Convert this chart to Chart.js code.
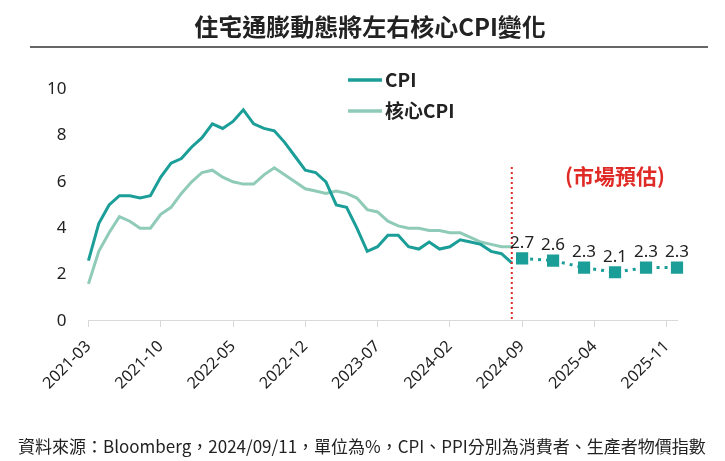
<!DOCTYPE html>
<html>
<head>
<meta charset="utf-8">
<script src="https://cdn.jsdelivr.net/npm/chart.js@4"></script>
<style>
  html, body { margin: 0; padding: 0; background: #fff; }
  #wrap { width: 725px; height: 461px; position: relative; }
</style>
</head>
<body>
<div id="wrap"><canvas id="cpiChart" width="725" height="461"></canvas></div>
<script>
// 月份 (2021-03 ~ 2025-12)
const months = [
    '2021-03', '2021-04', '2021-05', '2021-06', '2021-07', '2021-08', '2021-09', '2021-10', '2021-11', '2021-12',
    '2022-01', '2022-02', '2022-03', '2022-04', '2022-05', '2022-06', '2022-07', '2022-08', '2022-09', '2022-10', '2022-11', '2022-12',
    '2023-01', '2023-02', '2023-03', '2023-04', '2023-05', '2023-06', '2023-07', '2023-08', '2023-09', '2023-10', '2023-11', '2023-12',
    '2024-01', '2024-02', '2024-03', '2024-04', '2024-05', '2024-06', '2024-07', '2024-08', '2024-09', '2024-10', '2024-11', '2024-12',
    '2025-01', '2025-02', '2025-03', '2025-04', '2025-05', '2025-06', '2025-07', '2025-08', '2025-09', '2025-10', '2025-11', '2025-12'
];

// CPI 年增率 (%)
const cpi = [
    2.6, 4.2, 5.0, 5.4, 5.4, 5.3, 5.4, 6.2, 6.8, 7.0,
    7.5, 7.9, 8.5, 8.3, 8.6, 9.1, 8.5, 8.3, 8.2, 7.7, 7.1, 6.5,
    6.4, 6.0, 5.0, 4.9, 4.0, 3.0, 3.2, 3.7, 3.7, 3.2, 3.1, 3.4,
    3.1, 3.2, 3.5, 3.4, 3.3, 3.0, 2.9, 2.5
];

// 核心CPI 年增率 (%)
const coreCpi = [
    1.6, 3.0, 3.8, 4.5, 4.3, 4.0, 4.0, 4.6, 4.9, 5.5,
    6.0, 6.4, 6.5, 6.2, 6.0, 5.9, 5.9, 6.3, 6.6, 6.3, 6.0, 5.7,
    5.6, 5.5, 5.6, 5.5, 5.3, 4.8, 4.7, 4.3, 4.1, 4.0, 4.0, 3.9,
    3.9, 3.8, 3.8, 3.6, 3.4, 3.3, 3.2, 3.2
];

// 市場預估
const forecastMonths = ['2024-09', '2024-12', '2025-03', '2025-06', '2025-09', '2025-12'];
const forecastValues = [2.7, 2.6, 2.3, 2.1, 2.3, 2.3];

const tickEvery = 7;
const lastActual = '2024-08';
const yTicks = [0, 2, 4, 6, 8, 10];

const darkTeal = '#1b9e98';
const lightTeal = '#8fcbb8';
const red = '#e02a26';
const cjk = '"Noto Sans CJK TC", "Noto Sans", sans-serif';

const forecastData = months.map(function (m) {
    const i = forecastMonths.indexOf(m);
    return i >= 0 ? forecastValues[i] : null;
});

// 標題、圖例、預估區標示、資料來源
const decorPlugin = {
    id: 'decor',
    afterDraw: function (chart) {
        const ctx = chart.ctx;
        const x = chart.scales.x;
        const y = chart.scales.y;
        ctx.save();

        // 標題
        ctx.fillStyle = '#222';
        ctx.font = 'bold 24px ' + cjk;
        ctx.textAlign = 'center';
        ctx.textBaseline = 'middle';
        ctx.fillText('住宅通膨動態將左右核心CPI變化', 370, 27);
        ctx.strokeStyle = '#333';
        ctx.lineWidth = 1.5;
        ctx.beginPath();
        ctx.moveTo(30, 47);
        ctx.lineTo(708, 47);
        ctx.stroke();

        // 圖例
        const items = chart.data.datasets.filter(function (d) { return d.legend; });
        ctx.font = 'bold 19px ' + cjk;
        ctx.textAlign = 'left';
        items.forEach(function (d, i) {
            const ly = 80 + i * 31;
            ctx.strokeStyle = d.borderColor;
            ctx.lineWidth = 3.5;
            ctx.beginPath();
            ctx.moveTo(348, ly);
            ctx.lineTo(382, ly);
            ctx.stroke();
            ctx.fillStyle = '#222';
            ctx.fillText(d.label, 385, ly);
        });

        // 預估分隔線
        const vx = x.getPixelForValue(months.indexOf(lastActual));
        ctx.strokeStyle = red;
        ctx.lineWidth = 2;
        ctx.setLineDash([2, 3]);
        ctx.beginPath();
        ctx.moveTo(vx, 167);
        ctx.lineTo(vx, y.getPixelForValue(0));
        ctx.stroke();
        ctx.setLineDash([]);

        ctx.fillStyle = red;
        ctx.font = 'bold 21px ' + cjk;
        ctx.textAlign = 'center';
        ctx.fillText('(市場預估)', x.getPixelForValue(months.indexOf('2025-06')), y.getPixelForValue(6.25));

        // 預估數值標籤
        const meta = chart.getDatasetMeta(2);
        ctx.fillStyle = '#222';
        ctx.font = '17px "Noto Sans", sans-serif';
        ctx.textBaseline = 'bottom';
        meta.data.forEach(function (pt, i) {
            const v = forecastData[i];
            if (v === null) return;
            ctx.fillText(v.toFixed(1), pt.x, pt.y - 7);
        });

        // 資料來源
        ctx.fillStyle = '#222';
        ctx.font = '17px ' + cjk;
        ctx.textAlign = 'left';
        ctx.textBaseline = 'middle';
        ctx.fillText('資料來源：Bloomberg，2024/09/11，單位為%，CPI、PPI分別為消費者、生產者物價指數', 18, 447);

        ctx.restore();
    }
};

document.addEventListener('DOMContentLoaded', function () {
    const ctx = document.getElementById('cpiChart').getContext('2d');
    new Chart(ctx, {
        type: 'line',
        data: {
            labels: months,
            datasets: [{
                label: 'CPI',
                legend: true,
                data: cpi,
                borderColor: darkTeal,
                borderWidth: 3,
                pointRadius: 0,
                tension: 0
            }, {
                label: '核心CPI',
                legend: true,
                data: coreCpi,
                borderColor: lightTeal,
                borderWidth: 3,
                pointRadius: 0,
                tension: 0
            }, {
                label: '預估',
                data: forecastData,
                borderColor: darkTeal,
                backgroundColor: darkTeal,
                borderWidth: 3,
                borderDash: [3, 5],
                spanGaps: true,
                pointStyle: 'rect',
                pointRadius: 6.5,
                pointHoverRadius: 6.5
            }]
        },
        options: {
            responsive: false,
            animation: false,
            layout: {
                padding: { top: 89, right: 48, bottom: 58, left: 33 }
            },
            plugins: {
                legend: { display: false },
                tooltip: { enabled: false }
            },
            scales: {
                x: {
                    offset: false,
                    grid: {
                        drawOnChartArea: false,
                        drawTicks: true,
                        tickLength: 6,
                        color: '#d9d9d9'
                    },
                    border: { display: true, color: '#d9d9d9' },
                    ticks: {
                        autoSkip: false,
                        minRotation: 45,
                        maxRotation: 45,
                        padding: 10,
                        color: '#222',
                        font: { family: '"Noto Sans", sans-serif', size: 16 },
                        callback: function (v, i) {
                            return i % tickEvery === 0 ? months[i] : null;
                        }
                    }
                },
                y: {
                    min: yTicks[0],
                    max: yTicks[yTicks.length - 1],
                    afterBuildTicks: function (axis) {
                        axis.ticks = yTicks.map(function (v) { return { value: v }; });
                    },
                    grid: { display: false },
                    border: { display: false },
                    ticks: {
                        padding: 14,
                        color: '#222',
                        font: { family: '"Noto Sans", sans-serif', size: 17 }
                    }
                }
            }
        },
        plugins: [decorPlugin]
    });
});
</script>
</body>
</html>
